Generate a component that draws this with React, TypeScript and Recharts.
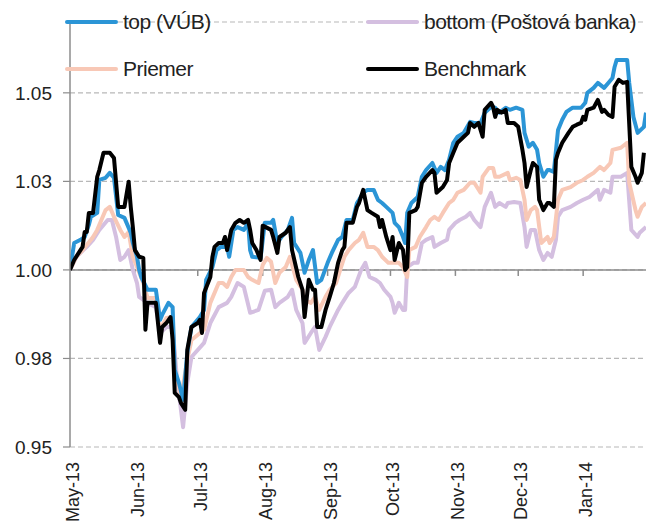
import React from 'react';
import { LineChart, Line, XAxis, YAxis, CartesianGrid, ReferenceLine } from 'recharts';

// x = calendar days since 1 May 2013, y = index value (start = 1.00)
const monthTicks = [0, 31, 61, 92, 123, 153, 184, 214, 245];
const monthLabels = ['May-13', 'Jun-13', 'Jul-13', 'Aug-13', 'Sep-13', 'Oct-13', 'Nov-13', 'Dec-13', 'Jan-14'];

const yTicks = [0.95, 0.975, 1.0, 1.025, 1.05];
const yTickLabels = ['0.95', '0.98', '1.00', '1.03', '1.05'];

const topSeries = [
  [0, 1.0], [2, 1.0076], [5, 1.0085], [7, 1.0093], [9, 1.0127], [10, 1.015], [13, 1.0161], [14, 1.0254],
  [17, 1.026], [19, 1.0274], [21, 1.026], [23, 1.0155], [26, 1.0147], [29, 1.0105], [30, 1.0076], [32, 1.0037],
  [33, 1.0], [34, 0.998], [37, 0.9944], [41, 0.9944], [43, 0.9859], [44, 0.9873], [47, 0.9907], [49, 0.9895],
  [50, 0.9718], [52, 0.9681], [54, 0.9633], [56, 0.9766], [58, 0.9839], [62, 0.9867], [64, 0.9887], [65, 0.9972],
  [68, 1.0008], [70, 1.0056], [72, 1.0065], [75, 1.0065], [76, 1.0037], [78, 1.0113], [80, 1.0121], [83, 1.0113],
  [85, 1.0133], [86, 1.0056], [87, 1.0037], [91, 1.0034], [93, 1.0133], [96, 1.0133], [97, 1.0141], [99, 1.0076],
  [101, 1.0093], [104, 1.0113], [106, 1.0147], [107, 1.0076], [110, 1.0048], [112, 0.9992], [114, 1.0028], [116, 1.0056],
  [118, 0.9963], [120, 0.9972], [123, 1.002], [125, 1.0048], [128, 1.0085], [130, 1.0093], [132, 1.0141], [135, 1.0141],
  [137, 1.0189], [138, 1.0198], [140, 1.0218], [142, 1.0226], [145, 1.0226], [147, 1.0198], [149, 1.0189], [151, 1.0178],
  [154, 1.0161], [155, 1.0133], [157, 1.0121], [159, 1.0093], [160, 1.0076], [161, 1.0161], [163, 1.0189], [166, 1.0206],
  [168, 1.0263], [170, 1.0282], [173, 1.0302], [175, 1.0274], [177, 1.0291], [179, 1.0282], [181, 1.0311], [183, 1.0359],
  [185, 1.0376], [188, 1.0387], [191, 1.0418], [193, 1.0415], [196, 1.0415], [198, 1.0444], [201, 1.046], [203, 1.0458],
  [205, 1.0444], [208, 1.0458], [210, 1.0452], [213, 1.0458], [216, 1.0452], [217, 1.0387], [219, 1.0348], [221, 1.0359],
  [223, 1.0339], [224, 1.0302], [226, 1.0263], [228, 1.0282], [229, 1.0282], [231, 1.0277], [233, 1.0395], [235, 1.0424],
  [237, 1.0446], [240, 1.0458], [244, 1.0458], [246, 1.0472], [247, 1.05], [250, 1.0514], [252, 1.0528], [255, 1.0514],
  [257, 1.0528], [259, 1.0542], [260, 1.0573], [261, 1.0593], [266, 1.0593], [267, 1.0528], [269, 1.0432], [271, 1.0387],
  [274, 1.0404], [275, 1.0444],
];

const bottomSeries = [
  [0, 1.0], [3, 1.0037], [8, 1.0065], [11, 1.0085], [14, 1.0113], [18, 1.0141], [20, 1.0141], [22, 1.0093],
  [24, 1.0028], [26, 1.0037], [28, 1.0056], [30, 1.0], [32, 0.9963], [33, 0.9924], [37, 0.9907], [41, 0.9895],
  [43, 0.9822], [46, 0.9839], [49, 0.9839], [51, 0.9698], [54, 0.9556], [56, 0.9681], [58, 0.9754], [64, 0.9794],
  [67, 0.985], [71, 0.9895], [75, 0.9907], [77, 0.9924], [80, 0.9963], [83, 0.9952], [86, 0.9879], [90, 0.9887],
  [93, 0.9941], [96, 0.9944], [98, 0.9895], [100, 0.9907], [104, 0.9924], [106, 0.9944], [108, 0.9887], [111, 0.985],
  [112, 0.9794], [115, 0.9822], [117, 0.9839], [119, 0.9774], [122, 0.9811], [124, 0.9839], [128, 0.9887], [130, 0.9907],
  [133, 0.9935], [136, 0.9952], [139, 1.0], [141, 1.002], [143, 0.998], [146, 0.9972], [148, 0.9963], [150, 0.9944],
  [153, 0.9924], [154, 0.9907], [155, 0.9879], [157, 0.9907], [159, 0.9887], [160, 0.9887], [161, 1.0008], [164, 1.002],
  [166, 1.002], [168, 1.0076], [170, 1.0085], [173, 1.0093], [174, 1.0065], [177, 1.0076], [180, 1.0085], [181, 1.0113],
  [184, 1.0133], [186, 1.0141], [189, 1.015], [191, 1.0161], [193, 1.0141], [196, 1.0121], [198, 1.0178], [201, 1.0218],
  [203, 1.0178], [205, 1.0189], [208, 1.0178], [209, 1.0189], [212, 1.0192], [215, 1.0189], [217, 1.0121], [218, 1.0065],
  [220, 1.0113], [222, 1.0113], [224, 1.0056], [226, 1.0028], [228, 1.0048], [230, 1.0037], [232, 1.0085], [233, 1.015],
  [235, 1.0169], [239, 1.0178], [242, 1.0189], [245, 1.0198], [248, 1.0206], [252, 1.0226], [253, 1.0198], [255, 1.0226],
  [258, 1.0218], [259, 1.0263], [263, 1.0263], [266, 1.0274], [268, 1.0113], [271, 1.0093], [272, 1.0105], [275, 1.0121],
];

const avgSeries = [
  [0, 1.0], [3, 1.0037], [6, 1.0056], [10, 1.0085], [11, 1.0093], [13, 1.0113], [17, 1.0169], [19, 1.0178],
  [21, 1.015], [24, 1.0113], [26, 1.0093], [28, 1.0107], [30, 1.0037], [32, 1.0008], [35, 0.9963], [37, 0.9921],
  [41, 0.9921], [43, 0.9831], [46, 0.9864], [49, 0.9867], [50, 0.9718], [53, 0.9641], [56, 0.9746], [58, 0.9802],
  [64, 0.9831], [67, 0.9907], [71, 0.9963], [73, 0.9963], [75, 0.9952], [77, 0.998], [79, 1.0], [83, 1.0],
  [85, 0.998], [87, 0.9972], [90, 0.9963], [92, 1.0014], [94, 1.0034], [96, 1.0023], [98, 0.9963], [100, 0.9992],
  [103, 1.0008], [105, 1.0037], [108, 0.9972], [111, 0.9944], [112, 0.9915], [115, 0.9907], [117, 0.9924], [119, 0.9887],
  [122, 0.9924], [124, 0.9944], [127, 0.9963], [129, 1.0], [131, 1.0037], [133, 1.0056], [136, 1.0076], [138, 1.0085],
  [140, 1.0105], [142, 1.0065], [145, 1.0065], [147, 1.0056], [149, 1.0037], [152, 1.002], [154, 1.002], [157, 1.002],
  [159, 1.0008], [161, 0.998], [162, 1.0056], [165, 1.0065], [167, 1.0093], [170, 1.0121], [172, 1.0141], [174, 1.015],
  [176, 1.0141], [178, 1.0161], [181, 1.0189], [183, 1.0198], [185, 1.0218], [188, 1.0226], [191, 1.0246], [193, 1.0246],
  [196, 1.0218], [197, 1.0263], [200, 1.0288], [202, 1.0288], [203, 1.0263], [205, 1.0263], [209, 1.0274], [210, 1.0254],
  [213, 1.026], [215, 1.0254], [217, 1.0198], [218, 1.0141], [220, 1.0169], [222, 1.0178], [223, 1.0169], [225, 1.0076],
  [228, 1.0093], [229, 1.0076], [231, 1.0093], [233, 1.0198], [235, 1.0226], [239, 1.0234], [242, 1.0246], [245, 1.0254],
  [247, 1.0263], [250, 1.0274], [253, 1.0291], [255, 1.0282], [258, 1.0302], [259, 1.0339], [263, 1.0345], [266, 1.0359],
  [267, 1.0246], [270, 1.0169], [271, 1.015], [273, 1.0178], [275, 1.0189],
];

const benchSeries = [
  [0, 1.0], [2, 1.0028], [5, 1.0056], [6, 1.0065], [7, 1.0107], [8, 1.0107], [9, 1.0161], [11, 1.0161],
  [13, 1.0263], [14, 1.0282], [16, 1.0331], [19, 1.0331], [21, 1.0316], [23, 1.0178], [26, 1.0178], [28, 1.0249],
  [29, 1.0178], [30, 1.0121], [31, 1.0056], [33, 1.0037], [35, 1.0034], [36, 0.9831], [37, 0.9907], [41, 0.9907],
  [43, 0.9794], [44, 0.9839], [46, 0.985], [48, 0.9867], [49, 0.9802], [50, 0.9653], [52, 0.9641], [53, 0.9624],
  [55, 0.9605], [56, 0.9774], [58, 0.9839], [61, 0.985], [62, 0.9859], [63, 0.9822], [64, 0.9935], [67, 0.998],
  [68, 1.0037], [69, 1.0065], [71, 1.0076], [73, 1.0076], [74, 1.0093], [75, 1.0056], [77, 1.0113], [79, 1.0133],
  [81, 1.0141], [83, 1.0133], [85, 1.0141], [86, 1.0113], [87, 1.0076], [89, 1.0056], [91, 1.0028], [92, 1.0125],
  [96, 1.0113], [97, 1.0093], [99, 1.0048], [100, 1.0093], [103, 1.0105], [105, 1.0121], [106, 1.0056], [109, 0.998],
  [111, 0.9944], [112, 0.9867], [114, 0.9972], [116, 0.9944], [117, 0.9944], [118, 0.9839], [120, 0.9839], [122, 0.9887],
  [124, 0.9924], [126, 0.9963], [128, 1.002], [130, 1.0056], [131, 1.0065], [132, 1.0133], [135, 1.0133], [137, 1.0178],
  [138, 1.0189], [140, 1.0226], [142, 1.0169], [144, 1.0161], [147, 1.015], [148, 1.0121], [149, 1.0141], [151, 1.0093],
  [153, 1.0056], [154, 1.0093], [155, 1.0028], [157, 1.0076], [159, 1.0056], [160, 1.0], [161, 1.0008], [162, 1.0161],
  [165, 1.0169], [166, 1.0178], [168, 1.0246], [170, 1.0263], [173, 1.0282], [174, 1.0274], [175, 1.0218], [178, 1.0234],
  [180, 1.0254], [181, 1.0302], [183, 1.0331], [185, 1.0359], [188, 1.0376], [190, 1.0387], [191, 1.0415], [193, 1.0404],
  [195, 1.0415], [197, 1.0376], [198, 1.0452], [201, 1.0472], [202, 1.046], [203, 1.0432], [204, 1.0452], [206, 1.0444],
  [208, 1.0452], [209, 1.0415], [212, 1.0415], [214, 1.0404], [216, 1.0339], [217, 1.0302], [218, 1.0234], [220, 1.0282],
  [221, 1.0302], [223, 1.0291], [224, 1.0198], [226, 1.0169], [228, 1.0189], [229, 1.0189], [231, 1.0178], [232, 1.0311],
  [233, 1.0331], [235, 1.0359], [238, 1.0387], [240, 1.0404], [242, 1.041], [244, 1.0415], [245, 1.0432], [246, 1.0424],
  [247, 1.0452], [250, 1.0458], [252, 1.048], [254, 1.0446], [255, 1.0452], [257, 1.0438], [259, 1.0432], [260, 1.0517],
  [262, 1.0537], [264, 1.0528], [266, 1.0531], [268, 1.0291], [270, 1.0263], [271, 1.0246], [273, 1.0274], [274, 1.0331],
];

const toPoints = (s: number[][]) => s.map(([d, v]) => ({ d, v }));

// drawing order = back to front
const series = [
  { key: 'bottom', name: 'bottom (Poštová banka)', color: '#d4bfe0', data: toPoints(bottomSeries), col: 1, row: 0 },
  { key: 'avg', name: 'Priemer', color: '#f8c8b6', data: toPoints(avgSeries), col: 0, row: 1 },
  { key: 'top', name: 'top (VÚB)', color: '#2b95d6', data: toPoints(topSeries), col: 0, row: 0 },
  { key: 'bench', name: 'Benchmark', color: '#000000', data: toPoints(benchSeries), col: 1, row: 1 },
];

const FONT = '"Liberation Sans", Arial, sans-serif';
const AXIS_GREY = '#8c8c8c';

const MonthTick = (props: any) => {
  const { x, y, payload } = props;
  const i = monthTicks.indexOf(payload.value);
  return (
    <text
      transform={`translate(${x + 3},${y}) rotate(-90)`}
      textAnchor="end"
      dominantBaseline="central"
      fontSize={18}
      fontFamily={FONT}
      fill="#222"
    >
      {monthLabels[i]}
    </text>
  );
};

export default function App() {
  return (
    <div style={{ position: 'absolute', left: 0, top: 0, width: 647, height: 525, background: '#fff', fontFamily: FONT }}>
      <LineChart width={647} height={525} margin={{ top: 22, right: 1, left: 0, bottom: 0 }}>
        <CartesianGrid vertical={false} strokeDasharray="5 3" stroke="#b8b8b8" strokeWidth={1.2} />
        <XAxis
          type="number"
          dataKey="d"
          domain={[0, 275]}
          ticks={monthTicks}
          interval={0}
          height={78}
          axisLine={false}
          tickLine={false}
          tickSize={0}
          tickMargin={15}
          tick={<MonthTick />}
          allowDataOverflow
        />
        <YAxis
          type="number"
          dataKey="v"
          domain={[0.95, 1.07]}
          ticks={yTicks}
          interval={0}
          width={70}
          tickSize={7}
          tickMargin={11}
          axisLine={{ stroke: AXIS_GREY, strokeWidth: 1.5 }}
          tickLine={{ stroke: AXIS_GREY, strokeWidth: 1.2 }}
          tick={{ fill: '#222', fontSize: 19, fontFamily: FONT }}
          tickFormatter={(v: number) => yTickLabels[yTicks.indexOf(v)]}
          allowDataOverflow
        />
        <ReferenceLine y={1} stroke={AXIS_GREY} strokeWidth={1.5} />
        {monthTicks.slice(1).map((d) => (
          <ReferenceLine
            key={d}
            segment={[{ x: d, y: 1 }, { x: d, y: 0.9983 }]}
            stroke={AXIS_GREY}
            strokeWidth={1.5}
          />
        ))}
        {series.map((s) => (
          <Line
            key={s.key}
            data={s.data}
            dataKey="v"
            name={s.name}
            type="linear"
            stroke={s.color}
            strokeWidth={4}
            strokeLinejoin="round"
            dot={false}
            activeDot={false}
            isAnimationActive={false}
          />
        ))}
      </LineChart>

      {/* Legend, two columns over the top of the plot */}
      {series.map((s) => (
        <div
          key={s.key}
          style={{
            position: 'absolute',
            left: 65 + s.col * 301,
            top: 22 + s.row * 47 - 14,
            height: 28,
            display: 'flex',
            alignItems: 'center',
            whiteSpace: 'nowrap',
          }}
        >
          <div style={{ width: 53, height: 4, borderRadius: 2, background: s.color }} />
          <span style={{ marginLeft: 5, fontSize: 21, letterSpacing: -0.5, color: '#222' }}>{s.name}</span>
        </div>
      ))}
    </div>
  );
}
